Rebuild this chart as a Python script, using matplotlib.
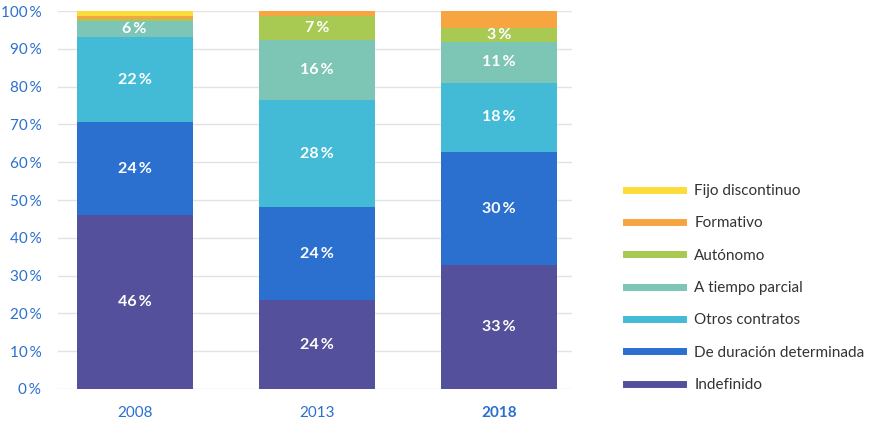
import matplotlib.pyplot as plt
import numpy as np
from matplotlib.lines import Line2D

plt.rcParams['font.family'] = ['Lato', 'DejaVu Sans']

years = ['2008', '2013', '2018']
series = ['Indefinido', 'De duración determinada', 'Otros contratos',
          'A tiempo parcial', 'Autónomo', 'Formativo', 'Fijo discontinuo']
colors = ['#54509c', '#2b6fcf', '#43bbd6', '#7dc5b4', '#a8c952', '#f7a541', '#fcdc3a']

indefinido = [46.0, 23.5, 32.8]
determinada = [24.6, 24.6, 29.9]
otros = [22.5, 28.4, 18.3]
parcial = [4.4, 15.8, 10.8]
autonomo = [0.4, 6.4, 3.7]
formativo = [0.9, 1.3, 4.5]
fijo = [1.2, 0.0, 0.0]

values = [indefinido, determinada, otros, parcial, autonomo, formativo, fijo]
# printed labels (rounded in the source, shown only for the big segments)
labels = [['46', '24', '33'], ['24', '24', '30'], ['22', '28', '18'],
          ['6', '16', '11'], ['', '7', '3'], ['', '', ''], ['', '', '']]

blue = '#2a70cf'

fig = plt.figure(figsize=(8.79, 4.26), dpi=100)
ax = fig.add_axes([0.066, 0.087, 0.585, 0.887])

x = np.arange(len(years))
bottom = np.zeros(len(years))
for vals, col, labs in zip(values, colors, labels):
    vals = np.array(vals)
    ax.bar(x, vals, 0.636, bottom=bottom, color=col, zorder=2)
    for xi, b, v, lab in zip(x, bottom, vals, labs):
        if lab:
            ax.text(xi, b + v / 2, lab + '\u2009%', ha='center', va='center',
                    color='white', fontsize=11.5, fontweight='bold', zorder=3)
    bottom += vals

ax.set_xlim(-0.42, 2.40)
ax.set_ylim(0, 100)
ax.set_yticks(np.arange(0, 101, 10))
ax.set_yticklabels([f'{v}\u2009%' for v in range(0, 101, 10)], color=blue, fontsize=11)
ax.set_xticks(x)
ax.set_xticklabels(years, color=blue, fontsize=11)
ax.get_xticklabels()[2].set_fontweight('bold')
ax.tick_params(axis='both', length=0)
ax.tick_params(axis='x', pad=12)
ax.tick_params(axis='y', pad=12)
ax.grid(axis='y', color='#e3e3e3', linewidth=1, zorder=0)
for s in ax.spines.values():
    s.set_visible(False)

handles = [Line2D([0], [0], color=c, linewidth=5) for c in colors[::-1]]
fig.legend(handles, series[::-1], loc='upper left', bbox_to_anchor=(0.697, 0.600),
           frameon=False, fontsize=11, handlelength=3.7, handletextpad=0.75,
           labelspacing=1.2, labelcolor='#333333')

fig.savefig('out.png', dpi=100)
